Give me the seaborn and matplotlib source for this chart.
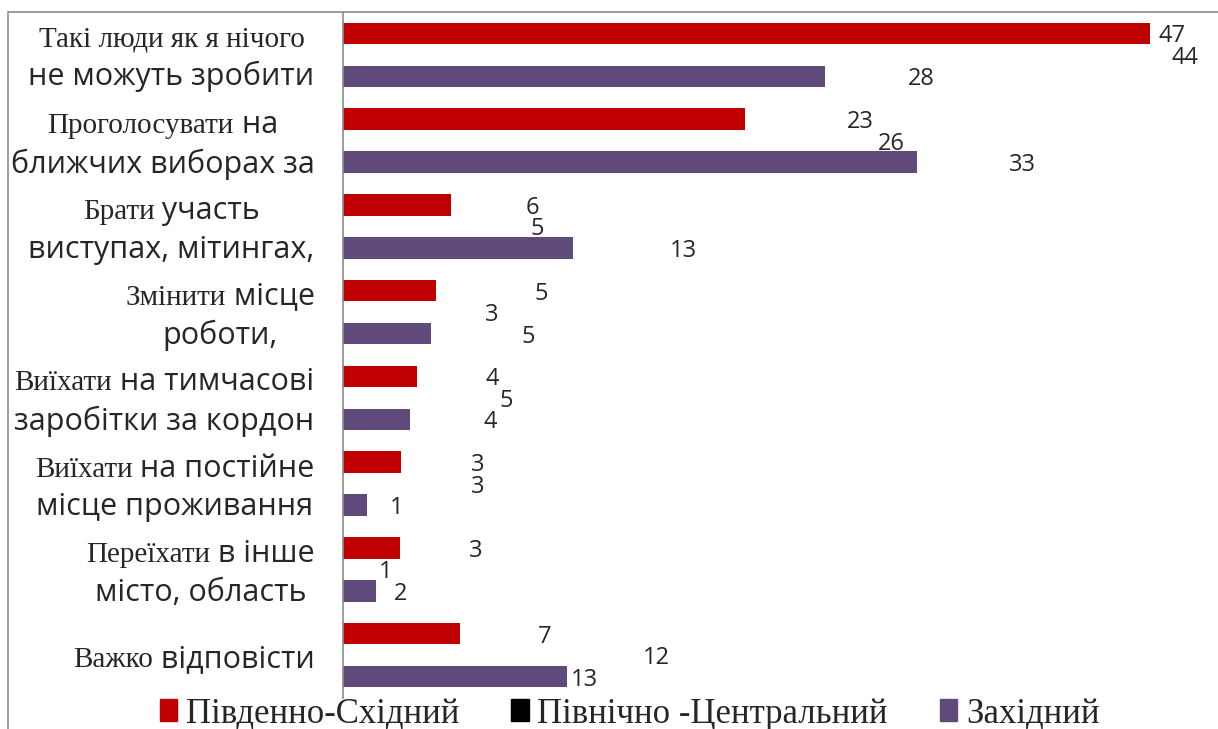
import numpy as np
import pandas as pd
import matplotlib
matplotlib.use('Agg')
import matplotlib.pyplot as plt
import seaborn as sns
from matplotlib.patches import Patch, Rectangle
from matplotlib.offsetbox import TextArea, HPacker, VPacker, AnnotationBbox

# category labels: first line is partly serif, partly sans (as in the source)
line1_serif = ['Такі люди як я нічого', 'Проголосувати', 'Брати', 'Змінити',
               'Виїхати', 'Виїхати', 'Переїхати', 'Важко']
line1_sans = ['', ' на', ' участь', ' місце', ' на тимчасові', ' на постійне',
              ' в інше', ' відповісти']
line2_sans = ['не можуть зробити', 'ближчих виборах за', 'виступах, мітингах,',
              'роботи,', 'заробітки за кордон', 'місце проживання',
              'місто, область', '']

series = ['Південно-Східний', 'Північно -Центральний', 'Західний']
south_east = [46.9, 23.4, 6.3, 5.4, 4.3, 3.4, 3.3, 6.8]
north_central = [44, 26, 5, 3, 5, 3, 1, 12]
west = [28.0, 33.4, 13.4, 5.1, 3.9, 1.4, 1.9, 13.0]

# the value labels were moved by hand in the original; shift right of bar end (px)
label_shift = [[22, 115, 81, 105, 75, 76, 76, 85],
               [85, 101, 108, 97, 77, 83, 25, 107],
               [97, 105, 110, 98, 80, 30, 25, 18]]

RED = '#C00000'
PURPLE = '#604A7B'
GRAY = '#8C8C8C'


def build_df():
    cats = [a + b + '|' + c for a, b, c in zip(line1_serif, line1_sans, line2_sans)]
    rows = []
    for name, vals in zip(series, [south_east, north_central, west]):
        for c, v in zip(cats, vals):
            rows.append({'cat': c, 'value': v, 'series': name})
    return pd.DataFrame(rows), cats


def draw(df, cats):
    sns.set_style('white')
    plt.rcParams['font.family'] = ['Open Sans', 'DejaVu Sans']
    fig = plt.figure(figsize=(12.18, 7.29), dpi=100)
    ax = fig.add_axes([343 / 1218, 1 - 698 / 729, 860 / 1218, 686 / 729])

    sns.barplot(data=df, y='cat', x='value', hue='series', order=cats,
                hue_order=series, orient='h', palette=[RED, 'white', PURPLE],
                width=0.75, saturation=1, legend=False, ax=ax, linewidth=0)
    ax.set_xlim(0, 50)
    ax.set_ylim(len(cats) - 0.5, -0.5)

    # value labels
    for k, cont in enumerate(ax.containers):
        for j, bar in enumerate(cont):
            w = bar.get_width()
            yc = bar.get_y() + bar.get_height() / 2
            ax.annotate(f'{w:.0f}', xy=(w, yc), xytext=(label_shift[k][j], -3),
                        textcoords='offset pixels', ha='center', va='center',
                        fontsize=17, family='Open Sans', annotation_clip=False)

    # axes styling
    for s in ['top', 'right', 'bottom']:
        ax.spines[s].set_visible(False)
    ax.spines['left'].set_color(GRAY)
    ax.spines['left'].set_linewidth(1.2)
    ax.set_xticks([])
    ax.set_xlabel('')
    ax.set_ylabel('')
    ax.set_yticks(np.arange(-0.5, len(cats), 1), minor=True)
    ax.tick_params(axis='y', which='major', length=0, labelleft=False)
    ax.tick_params(axis='y', which='minor', length=9, color=GRAY, width=1.2)

    # category labels with mixed fonts
    for i in range(len(cats)):
        parts = [TextArea(line1_serif[i], textprops=dict(family='Liberation Serif', size=21))]
        if line1_sans[i]:
            parts.append(TextArea(line1_sans[i], textprops=dict(family='Open Sans', size=22)))
        rows = [HPacker(children=parts, pad=0, sep=0, align='baseline')]
        if line2_sans[i]:
            rows.append(TextArea(line2_sans[i], textprops=dict(family='Open Sans', size=22)))
        block = VPacker(children=rows, pad=0, sep=6, align='center')
        ab = AnnotationBbox(block, (-0.033, i + 0.05), xycoords=ax.get_yaxis_transform(),
                            box_alignment=(1, 0.5), frameon=False, pad=0,
                            annotation_clip=False)
        ax.add_artist(ab)

    # legend
    handles = [Patch(color=RED), Patch(color='black'), Patch(color=PURPLE)]
    fig.legend(handles=handles, labels=series, loc='lower center',
               bbox_to_anchor=(0.517, -0.045), ncol=3, frameon=False,
               prop={'family': 'Liberation Serif', 'size': 25},
               handlelength=0.5, handleheight=0.6, handletextpad=0.25,
               columnspacing=1.5)

    # outer chart border
    fig.add_artist(Rectangle((8 / 1218, -0.5), 2, (1 - 12 / 729) + 0.5,
                             transform=fig.transFigure, fill=False,
                             edgecolor=GRAY, lw=1.2, clip_on=False))

    fig.savefig('out.png', dpi=100)


def main():
    df, cats = build_df()
    draw(df, cats)


if __name__ == '__main__':
    main()
